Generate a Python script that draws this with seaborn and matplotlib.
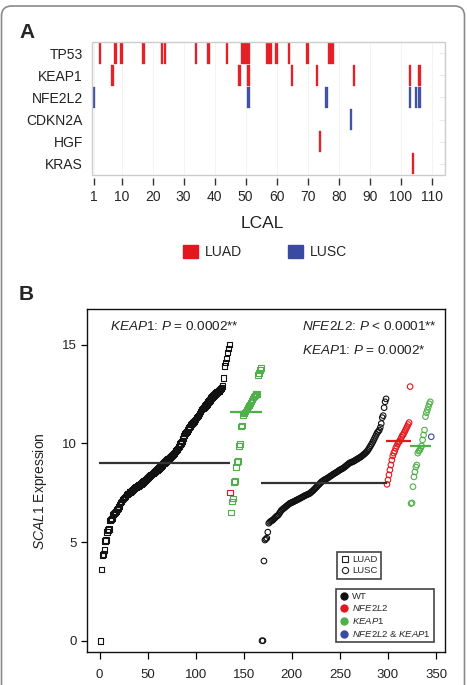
import matplotlib as mpl
import matplotlib.pyplot as plt
import numpy as np
import pandas as pd
import seaborn as sns
from matplotlib.lines import Line2D
from matplotlib.patches import FancyBboxPatch, Patch, Rectangle
from matplotlib.transforms import IdentityTransform

# ---------------- panel A data: mutated LCAL samples per gene ----------------
genes = ["TP53", "KEAP1", "NFE2L2", "CDKN2A", "HGF", "KRAS"]
tp53_luad = [3, 8, 10, 17, 23, 24, 34, 38, 44, 49, 50, 51, 57, 58, 60, 64, 70, 77, 78]
keap1_luad = [7, 48, 51, 65, 73, 85, 103, 106]
nfe2l2_lusc = [1, 51, 76, 103, 105, 106]
cdkn2a_lusc = [84]
hgf_luad = [74]
kras_luad = [104]
lcal_ticks = [1, 10, 20, 30, 40, 50, 60, 70, 80, 90, 100, 110]

# ---------------- panel B data: SCAL1 expression, sorted within group ----------------
luad_wt = [0.0, 3.6, 4.35, 4.4, 4.6, 5.05, 5.1, 5.5, 5.6, 5.65, 6.1, 6.15, 6.2, 6.4, 6.45,
           6.5, 6.55, 6.65, 6.7, 6.8, 6.9, 7.0, 7.05, 7.15, 7.2, 7.25, 7.3, 7.4, 7.42, 7.45,
           7.5, 7.52, 7.55, 7.6, 7.65, 7.7, 7.75, 7.78, 7.8, 7.85, 7.9, 7.92, 7.95, 8.0, 8.05,
           8.1, 8.12, 8.15, 8.2, 8.25, 8.3, 8.33, 8.38, 8.42, 8.48, 8.5, 8.55, 8.58, 8.62, 8.65,
           8.7, 8.75, 8.8, 8.85, 8.9, 8.97, 9.0, 9.05, 9.1, 9.15, 9.2, 9.22, 9.25, 9.3, 9.35,
           9.4, 9.45, 9.5, 9.6, 9.65, 9.72, 9.8, 9.85, 9.95, 10.0, 10.1, 10.25, 10.4, 10.5, 10.55,
           10.6, 10.7, 10.8, 10.85, 10.95, 11.0, 11.05, 11.1, 11.15, 11.2, 11.3, 11.35, 11.4, 11.5, 11.6,
           11.7, 11.75, 11.8, 11.85, 11.9, 11.95, 12.0, 12.1, 12.15, 12.2, 12.3, 12.35, 12.4, 12.45, 12.5,
           12.55, 12.6, 12.62, 12.65, 12.7, 12.75, 12.8, 12.9, 13.3, 13.9, 14.1, 14.3, 14.6, 14.8, 15.0]
luad_nfe2l2 = [7.5]
luad_keap1 = [6.5, 7.05, 7.2, 8.05, 8.1, 8.8, 9.05, 9.1, 9.85, 9.95, 10.85, 10.9, 11.4, 11.5, 11.55, 11.6,
              11.7, 11.8, 11.9, 11.95, 12.05, 12.15, 12.25, 12.35, 12.4, 12.45, 12.5, 12.5, 13.45, 13.55, 13.7, 13.8]
lusc_wt = [0.0, 0.0, 4.04, 5.1, 5.15, 5.2, 5.5, 5.95, 6.0, 6.05, 6.08, 6.1, 6.15, 6.2, 6.25,
           6.3, 6.33, 6.37, 6.45, 6.52, 6.6, 6.64, 6.68, 6.72, 6.76, 6.8, 6.84, 6.88, 6.92, 6.96,
           6.98, 7.0, 7.02, 7.05, 7.07, 7.1, 7.12, 7.15, 7.17, 7.2, 7.22, 7.25, 7.28, 7.3, 7.33,
           7.36, 7.38, 7.4, 7.42, 7.45, 7.47, 7.52, 7.56, 7.6, 7.65, 7.7, 7.75, 7.8, 7.86, 7.9,
           7.95, 8.0, 8.05, 8.08, 8.12, 8.15, 8.18, 8.2, 8.23, 8.26, 8.3, 8.33, 8.36, 8.4, 8.43,
           8.46, 8.49, 8.52, 8.55, 8.58, 8.62, 8.65, 8.68, 8.7, 8.73, 8.76, 8.8, 8.84, 8.88, 8.92,
           8.96, 9.0, 9.02, 9.04, 9.06, 9.08, 9.11, 9.14, 9.17, 9.2, 9.23, 9.26, 9.29, 9.32, 9.36,
           9.4, 9.44, 9.48, 9.53, 9.58, 9.64, 9.72, 9.8, 9.88, 9.96, 10.05, 10.15, 10.25, 10.35, 10.45,
           10.55, 10.6, 10.67, 10.8, 11.0, 11.3, 11.4, 11.8, 12.1, 12.25]
lusc_nfe2l2 = [7.92, 8.14, 8.4, 8.65, 8.9, 9.15, 9.36, 9.5, 9.6, 9.75, 9.85, 9.95, 10.05, 10.1, 10.2,
               10.3, 10.4, 10.45, 10.55, 10.65, 10.75, 10.85, 10.95, 11.05, 12.87]
lusc_keap1 = [6.95, 6.98, 7.8, 8.3, 8.55, 8.8, 8.9, 9.5, 9.6, 9.65, 9.75, 9.86, 10.17, 10.42, 10.67,
              11.35, 11.55, 11.69, 11.85, 12.0, 12.1]
lusc_both = [10.33]
# group centre lines (LUAD WT, LUAD KEAP1, LUSC WT, LUSC NFE2L2, LUSC KEAP1)
line_levels = [8.99, 11.6, 8.0, 10.1, 9.86]

RED = "#e3171d"
BLUE = "#3a4aa0"
GREEN = "#4fb04a"
BLACK = "#111111"

sns.set_style("white")
plt.rcParams["font.family"] = ["Liberation Sans", "DejaVu Sans"]
mpl.rcParams.update({
    "mathtext.fontset": "custom",
    "mathtext.rm": "Liberation Sans",
    "mathtext.it": "Liberation Sans:italic",
    "mathtext.bf": "Liberation Sans:bold",
})

W, H = 467, 685
fig = plt.figure(figsize=(W / 100, H / 100), dpi=100)
fig.patch.set_facecolor("white")


def fbox(left, top, right, bottom):
    return [left / W, 1 - bottom / H, (right - left) / W, (bottom - top) / H]


# ---------------- panel A ----------------
axA = fig.add_axes(fbox(92, 42, 445, 175))
rows = {g: i for i, g in enumerate(genes)}
bar_sets = [
    ("TP53", tp53_luad, RED), ("KEAP1", keap1_luad, RED), ("NFE2L2", nfe2l2_lusc, BLUE),
    ("CDKN2A", cdkn2a_lusc, BLUE), ("HGF", hgf_luad, RED), ("KRAS", kras_luad, RED),
]
for gene, samples, col in bar_sets:
    r = rows[gene]
    axA.bar(samples, 0.94, bottom=r - 0.47, width=0.85, color=col,
            edgecolor=col, linewidth=0.25, alpha=0.95, zorder=3)

axA.set_xlim(0.45, 114.3)
axA.set_ylim(len(genes) - 0.5, -0.5)
axA.set_yticks(range(len(genes)))
axA.set_yticklabels(genes, fontsize=10, color="#222222")
axA.set_xticks(lcal_ticks)
axA.set_xticklabels([str(t) for t in lcal_ticks], fontsize=9.5, color="#333333")
axA.tick_params(axis="x", bottom=True, direction="out", length=5, width=1, color="#333333", pad=4)
axA.tick_params(axis="y", left=False, right=True, direction="in", length=4, width=0.6,
                color="#e6e6e6", pad=6.5, labelleft=True, labelright=False)
axA.grid(axis="x", color="#f1f1f1", linewidth=0.6, zorder=0)
axA.spines["bottom"].set_position(("outward", 2))
for s in axA.spines.values():
    s.set_visible(False)
axA.add_patch(Rectangle((0, 0), 1, 1, transform=axA.transAxes, fill=False,
                        edgecolor="#cccccc", linewidth=1.0, clip_on=False, zorder=4))

fig.text(262 / W, 1 - 224 / H, "LCAL", fontsize=12.5, color="#222222", ha="center", va="center")
fig.legend(handles=[Patch(color=RED, label="LUAD"), Patch(color=BLUE, label="LUSC")],
           loc="center", bbox_to_anchor=(265 / W, 1 - 252 / H), ncol=2, frameon=False,
           fontsize=10, handlelength=1.1, handleheight=1.1, handletextpad=0.5, columnspacing=3.3)

fig.text(19 / W, 1 - 32 / H, "A", fontsize=15, fontweight="bold", va="center", ha="left")
fig.text(19 / W, 1 - 295 / H, "B", fontsize=15, fontweight="bold", va="center", ha="left")

# ---------------- panel B ----------------
axB = fig.add_axes(fbox(87, 309, 445, 652))
groups = [
    ("LUAD", "WT", luad_wt), ("LUAD", "NFE2L2", luad_nfe2l2), ("LUAD", "KEAP1", luad_keap1),
    ("LUSC", "WT", lusc_wt), ("LUSC", "NFE2L2", lusc_nfe2l2), ("LUSC", "KEAP1", lusc_keap1),
    ("LUSC", "BOTH", lusc_both),
]
frames = []
start = 1
for tumor, status, vals in groups:
    frames.append(pd.DataFrame({"sample": np.arange(start, start + len(vals)), "expr": vals,
                                "tumor": tumor, "status": status}))
    start += len(vals)
df = pd.concat(frames, ignore_index=True)

shape = {"LUAD": "s", "LUSC": "o"}
status_col = {"WT": BLACK, "NFE2L2": RED, "KEAP1": GREEN, "BOTH": BLUE}
for (tumor, status), sub in df.groupby(["tumor", "status"], sort=False):
    sns.scatterplot(data=sub, x="sample", y="expr", marker=shape[tumor], s=16,
                    facecolor="none", edgecolor=status_col[status], linewidth=0.8,
                    ax=axB, legend=False, zorder=3)

line_groups = [("LUAD", "WT", BLACK), ("LUAD", "KEAP1", GREEN), ("LUSC", "WT", BLACK),
               ("LUSC", "NFE2L2", RED), ("LUSC", "KEAP1", GREEN)]
for (tumor, status, col), lvl in zip(line_groups, line_levels):
    xs = df.loc[(df.tumor == tumor) & (df.status == status), "sample"]
    axB.hlines(lvl, xs.min() - 1.5, xs.max() + 1, color="#333333" if col == BLACK else col,
               linewidth=1.6, zorder=4)

axB.set_xlim(-13, 359.3)
axB.set_ylim(-0.57, 16.8)
axB.set_xticks([0, 50, 100, 150, 200, 250, 300, 350])
axB.set_yticks([0, 5, 10, 15])
axB.tick_params(axis="both", labelsize=9.5, colors="#222222")
axB.tick_params(axis="x", bottom=True, direction="out", length=5, width=0.9, color="black", pad=7)
axB.tick_params(axis="y", left=True, direction="out", length=4.5, width=0.9, color="black", pad=3)
for s in axB.spines.values():
    s.set_visible(True)
    s.set_color("#111111")
    s.set_linewidth(1.0)
axB.set_xlabel("")
axB.set_ylabel("")
fig.text(40 / W, 1 - 491 / H, r"$\mathit{SCAL1}$ Expression", rotation=90, fontsize=10,
         ha="center", va="center", color="#222222")

axB.text(0.064, 0.948, r"$\mathit{KEAP1}$: $\mathit{P}$ = 0.0002**", transform=axB.transAxes,
         fontsize=9.7, va="center", ha="left", color="#222222")
axB.text(0.6, 0.948, r"$\mathit{NFE2L2}$: $\mathit{P}$ < 0.0001**", transform=axB.transAxes,
         fontsize=9.7, va="center", ha="left", color="#222222")
axB.text(0.6, 0.880, r"$\mathit{KEAP1}$: $\mathit{P}$ = 0.0002*", transform=axB.transAxes,
         fontsize=9.7, va="center", ha="left", color="#222222")

shape_handles = [
    Line2D([], [], marker="s", ls="none", mfc="none", mec="#222222", mew=0.8, ms=4.5, label="LUAD"),
    Line2D([], [], marker="o", ls="none", mfc="none", mec="#222222", mew=0.8, ms=4.5, label="LUSC"),
]
color_handles = [
    Line2D([], [], marker="o", ls="none", mfc=c, mec=c, ms=5, label=l)
    for c, l in [(BLACK, "WT"), (RED, r"$\mathit{NFE2L2}$"), (GREEN, r"$\mathit{KEAP1}$"),
                 (BLUE, r"$\mathit{NFE2L2}$ & $\mathit{KEAP1}$")]
]
leg_kw = dict(fontsize=6.8, fancybox=False, framealpha=1, borderpad=0.35, handletextpad=0.3,
              labelspacing=0.2, handlelength=1.0, borderaxespad=0)
leg1 = axB.legend(handles=shape_handles, loc="upper left", bbox_to_anchor=(0.698, 0.2915), **leg_kw)
leg1.get_frame().set_edgecolor("#444444")
leg1.get_frame().set_linewidth(1.2)
axB.add_artist(leg1)
leg2 = axB.legend(handles=color_handles, loc="upper left", bbox_to_anchor=(0.696, 0.1837), **leg_kw)
leg2.get_frame().set_edgecolor("#444444")
leg2.get_frame().set_linewidth(1.2)

# outer rounded frame of the figure panel
fig.add_artist(FancyBboxPatch((1.5, -30), 463, 679 + 30, boxstyle="round,pad=0,rounding_size=10",
                              transform=IdentityTransform(), fill=False, edgecolor="#8a8a8a",
                              linewidth=1.2, clip_on=False))

fig.savefig("out.png", dpi=100)
